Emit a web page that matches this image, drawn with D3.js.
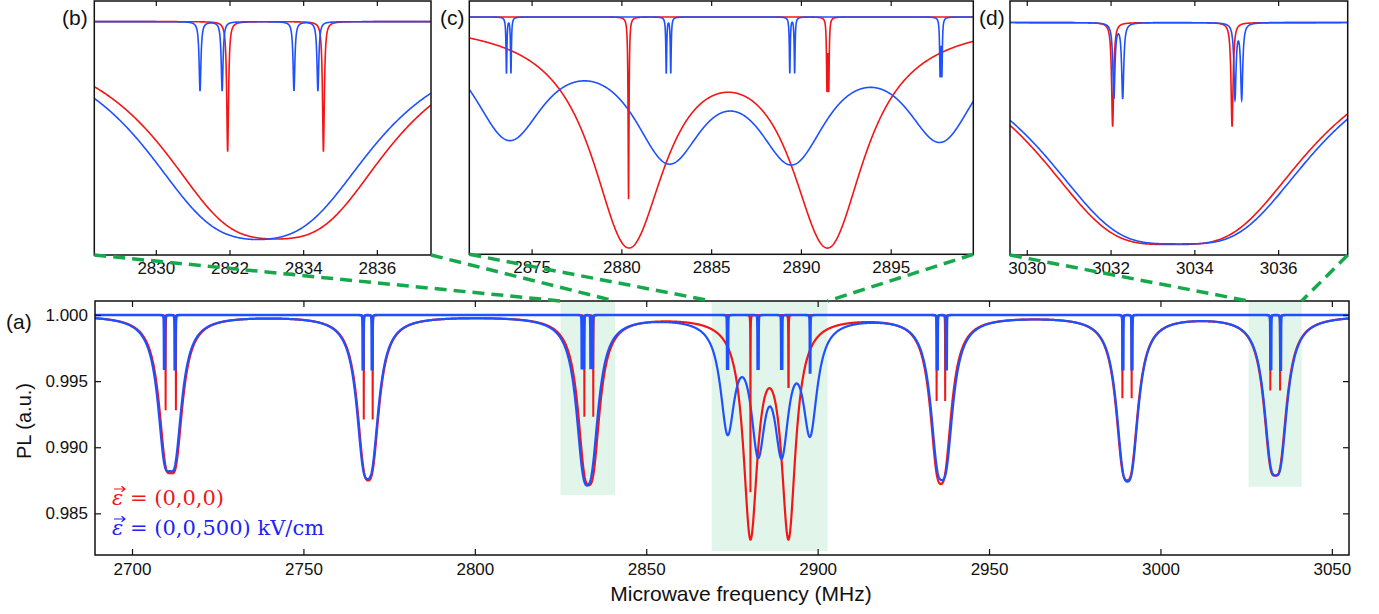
<!DOCTYPE html>
<html>
<head>
<meta charset="utf-8">
<title>PL spectrum, E = 0 vs E = 500 kV/cm</title>
<script src="https://d3js.org/d3.v7.min.js"></script>
<style>
  body { margin: 0; background: #fff; }
  svg text { font-family: "Liberation Sans", Arial, sans-serif; fill: #111; }
</style>
</head>
<body>
<div id="vis"></div>
<script>
// ---- data ----
// red = field off, line centres (MHz) and strengths of the broad dips
var redBroadF = [2709.8, 2712.8, 2767.6, 2770.2, 2831.95, 2834.55, 2880.4, 2891.5,
                 2934.7, 2937.2, 2988.9, 2991.6, 3032.05, 3034.9];
var redBroadA = [0.0081, 0.0081, 0.0079, 0.0079, 0.0081, 0.0081, 0.0161, 0.0161,
                 0.0079, 0.0079, 0.0080, 0.0080, 0.0080, 0.0080];
// red narrow dips: centres and depths
var redNarrowF = [2709.8, 2712.8, 2767.6, 2770.2, 2831.95, 2834.55, 2880.4, 2891.45, 2891.55,
                  2934.7, 2937.2, 2988.9, 2991.6, 3032.05, 3034.9];
var redNarrowA = [0.0072, 0.0072, 0.0079, 0.0079, 0.0077, 0.0077, 0.0134, 0.0051, 0.0051,
                  0.0065, 0.0065, 0.0063, 0.0063, 0.0057, 0.0057];
// blue = 500 kV/cm, split lines
var blueF = [2709.35, 2709.6, 2712.45, 2712.65, 2767.3, 2767.5, 2769.95, 2770.15,
             2831.2, 2831.8, 2833.75, 2834.4,
             2873.6, 2873.85, 2882.5, 2882.75, 2889.38, 2889.65, 2897.75, 2897.85,
             2934.8, 2935.0, 2937.45, 2937.65, 2988.95, 2989.15, 2991.6, 2991.8,
             3032.08, 3032.29, 3034.97, 3035.13];
var blueBroadA = [0.00405, 0.00405, 0.00405, 0.00405, 0.00395, 0.00395, 0.00395, 0.00395,
                  0.00405, 0.00405, 0.00405, 0.00405,
                  0.00402, 0.00402, 0.00445, 0.00445, 0.00445, 0.00445, 0.00402, 0.00402,
                  0.00395, 0.00395, 0.00395, 0.00395, 0.0040, 0.0040, 0.0040, 0.0040,
                  0.0040, 0.0040, 0.0040, 0.0040];
var blueNarrowA = [0.0041, 0.0041, 0.0041, 0.0041, 0.0041, 0.0041, 0.0041, 0.0041,
                   0.0041, 0.0041, 0.0041, 0.0041,
                   0.0041, 0.0041, 0.0041, 0.0041, 0.0041, 0.0041, 0.0041, 0.0041,
                   0.0041, 0.0041, 0.0041, 0.0041, 0.0041, 0.0041, 0.0041, 0.0041,
                   0.0041, 0.0041, 0.0041, 0.0041];
var broadHW = 2.5, narrowHW = 0.03;   // half widths, MHz

// axes
var mainX = [2689.2, 3055.0], mainY = [0.98185, 1.00106];
var mainXTicks = [2700, 2750, 2800, 2850, 2900, 2950, 3000, 3050];
var mainYTicks = [0.985, 0.990, 0.995, 1.000];
// zoom windows (frequency range, bottom of box)
var zoomF = [[2825.0, 2840.9], [2869.1, 2902.9], [3025.7, 3041.2]];
var zoomBottom = [0.98638, 0.98215, 0.98701];
// insets
var insetNames = ["(b)", "(c)", "(d)"];
var insetX = [[2828.33, 2837.47], [2871.53, 2899.6], [3029.6, 3037.66]];
var insetY = [[0.98618, 1.00122], [0.98256, 1.00117], [0.98727, 1.00118]];
var insetTicks = [[2830, 2832, 2834, 2836], [2875, 2880, 2885, 2890, 2895], [3030, 3032, 3034, 3036]];
// legend
var legendText = [" = (0,0,0)", " = (0,0,500) kV/cm"];

var RED = "#f21616", BLUE = "#1f50ff";
var legendColors = ["#f21616", "#1c24f5"];

// ---- helpers ----
function spectrum(fs, as, hw) {
  return function(f) {
    var s = 0;
    for (var i = 0; i < fs.length; i++) {
      var d = f - fs[i];
      s += as[i] * hw * hw / (d * d + hw * hw);
    }
    return 1 - s;
  };
}
function grid(lo, hi, step, centres) {
  var xs = d3.range(lo, hi, step);
  xs.push(hi);
  centres.forEach(function(c) { if (c > lo && c < hi) xs.push(c); });
  return xs.sort(function(a, b) { return a - b; });
}

var redBroad = spectrum(redBroadF, redBroadA, broadHW);
var blueBroad = spectrum(blueF, blueBroadA, broadHW);
var redNarrow = spectrum(redNarrowF, redNarrowA, narrowHW);
var blueNarrow = spectrum(blueF, blueNarrowA, narrowHW);

var svg = d3.select("#vis").append("svg")
  .attr("width", 1379).attr("height", 614);

var clipN = 0;
function panel(box, xd, yd, steps, widths) {
  var x = d3.scaleLinear().domain(xd).range([box.x0, box.x1]);
  var y = d3.scaleLinear().domain(yd).range([box.y1, box.y0]);
  var id = "clip" + (clipN++);
  svg.append("clipPath").attr("id", id).append("rect")
    .attr("x", box.x0).attr("y", box.y0)
    .attr("width", box.x1 - box.x0).attr("height", box.y1 - box.y0);
  var g = svg.append("g");
  var plot = g.append("g").attr("clip-path", "url(#" + id + ")");
  var line = function(fn, xs) {
    return d3.line().x(function(f) { return x(f); }).y(function(f) { return y(fn(f)); })(xs);
  };
  var gb = grid(xd[0], xd[1], steps[0], []);
  var gn = grid(xd[0], xd[1], steps[1], redNarrowF.concat(blueF));
  return { x: x, y: y, g: g, plot: plot, draw: function() {
    plot.append("path").attr("d", line(redBroad, gb))
      .attr("fill", "none").attr("stroke", RED).attr("stroke-width", widths[0]);
    plot.append("path").attr("d", line(blueBroad, gb))
      .attr("fill", "none").attr("stroke", BLUE).attr("stroke-width", widths[0]);
    plot.append("path").attr("d", line(redNarrow, gn))
      .attr("fill", "none").attr("stroke", RED).attr("stroke-width", widths[1]);
    plot.append("path").attr("d", line(blueNarrow, gn))
      .attr("fill", "none").attr("stroke", BLUE).attr("stroke-width", widths[2]);
  } };
}

function frame(g, box) {
  g.append("rect").attr("x", box.x0).attr("y", box.y0)
    .attr("width", box.x1 - box.x0).attr("height", box.y1 - box.y0)
    .attr("fill", "none").attr("stroke", "#111").attr("stroke-width", 1.5);
}
function styleAxis(a, fs) {
  a.select(".domain").remove();
  a.selectAll("line").attr("stroke", "#111").attr("stroke-width", 1.2);
  a.selectAll("text").attr("font-size", fs).attr("fill", "#111")
    .style("font-family", "'Liberation Sans', Arial, sans-serif");
}

// ---- main panel (a) ----
var mbox = { x0: 95, x1: 1349, y0: 301, y1: 555 };
var m = panel(mbox, mainX, mainY, [0.1, 0.05], [2.2, 2, 2.6]);

// shaded zoom windows
zoomF.forEach(function(r, i) {
  m.plot.append("rect")
    .attr("x", m.x(r[0])).attr("y", m.y(mainY[1]))
    .attr("width", m.x(r[1]) - m.x(r[0]))
    .attr("height", m.y(zoomBottom[i]) - m.y(mainY[1]))
    .attr("fill", "#e2f5ea");
});
m.draw();
frame(m.g, mbox);

var ax = m.g.append("g").attr("transform", "translate(0," + mbox.y1 + ")")
  .call(d3.axisBottom(m.x).tickValues(mainXTicks).tickSizeInner(-6).tickSizeOuter(0).tickPadding(8).tickFormat(d3.format("d")));
styleAxis(ax, 17);
var axT = m.g.append("g").attr("transform", "translate(0," + mbox.y0 + ")")
  .call(d3.axisTop(m.x).tickValues(mainXTicks).tickSizeInner(-6).tickSizeOuter(0).tickFormat(""));
styleAxis(axT, 17);
var ay = m.g.append("g").attr("transform", "translate(" + mbox.x0 + ",0)")
  .call(d3.axisLeft(m.y).tickValues(mainYTicks).tickSizeInner(-6).tickSizeOuter(0).tickPadding(7).tickFormat(d3.format(".3f")));
styleAxis(ay, 17);
var ayR = m.g.append("g").attr("transform", "translate(" + mbox.x1 + ",0)")
  .call(d3.axisRight(m.y).tickValues(mainYTicks).tickSizeInner(-6).tickSizeOuter(0).tickFormat(""));
styleAxis(ayR, 17);

svg.append("text").attr("x", 741).attr("y", 601).attr("text-anchor", "middle")
  .attr("font-size", 21).text("Microwave frequency (MHz)");
svg.append("text").attr("transform", "translate(31,421) rotate(-90)")
  .attr("text-anchor", "middle").attr("font-size", 20).text("PL (a.u.)");
svg.append("text").attr("x", 6).attr("y", 329).attr("font-size", 21).text("(a)");

// legend: italic epsilon with a small vector arrow drawn over it
var legY = [505, 535];
legendText.forEach(function(txt, i) {
  var t = svg.append("text").attr("x", 112).attr("y", legY[i])
    .style("font-family", "'DejaVu Serif', 'Liberation Serif', serif")
    .attr("font-size", 21).style("fill", legendColors[i]);
  t.append("tspan").attr("font-style", "italic").text("\u03b5");
  t.append("tspan").text(txt);
  var ya = legY[i] - 16;
  svg.append("path")
    .attr("d", "M114," + ya + "H125M121.5," + (ya - 2.8) + "L125," + ya + "L121.5," + (ya + 2.8))
    .attr("fill", "none").attr("stroke", legendColors[i]).attr("stroke-width", 1.2);
});

// ---- insets (b), (c), (d) ----
var iboxes = [
  { x0: 94.3, x1: 431, y0: 1, y1: 255 },
  { x0: 469.3, x1: 973.3, y0: 1, y1: 254.3 },
  { x0: 1010, x1: 1347.7, y0: 1, y1: 255 }
];
var labelX = [62, 440, 979];
iboxes.forEach(function(b, i) {
  var p = panel(b, insetX[i], insetY[i], [0.02, 0.004], [1.6, 1.6, 1.6]);
  p.draw();
  frame(p.g, b);
  var a = p.g.append("g").attr("transform", "translate(0," + b.y1 + ")")
    .call(d3.axisBottom(p.x).tickValues(insetTicks[i]).tickSizeInner(-5).tickSizeOuter(0).tickPadding(7).tickFormat(d3.format("d")));
  styleAxis(a, 17);
  var at = p.g.append("g").attr("transform", "translate(0," + b.y0 + ")")
    .call(d3.axisTop(p.x).tickValues(insetTicks[i]).tickSizeInner(-5).tickSizeOuter(0).tickFormat(""));
  styleAxis(at, 17);
  svg.append("text").attr("x", labelX[i]).attr("y", 25).attr("font-size", 21).text(insetNames[i]);

  // dashed connectors from inset corners to the shaded window
  var zx0 = m.x(zoomF[i][0]), zx1 = m.x(zoomF[i][1]);
  [[b.x0, zx0], [b.x1, zx1]].forEach(function(c) {
    svg.append("line").attr("x1", c[0]).attr("y1", b.y1).attr("x2", c[1]).attr("y2", mbox.y0)
      .attr("stroke", "#17a84c").attr("stroke-width", 3.5).attr("stroke-dasharray", "12,7");
  });
});
</script>
</body>
</html>
